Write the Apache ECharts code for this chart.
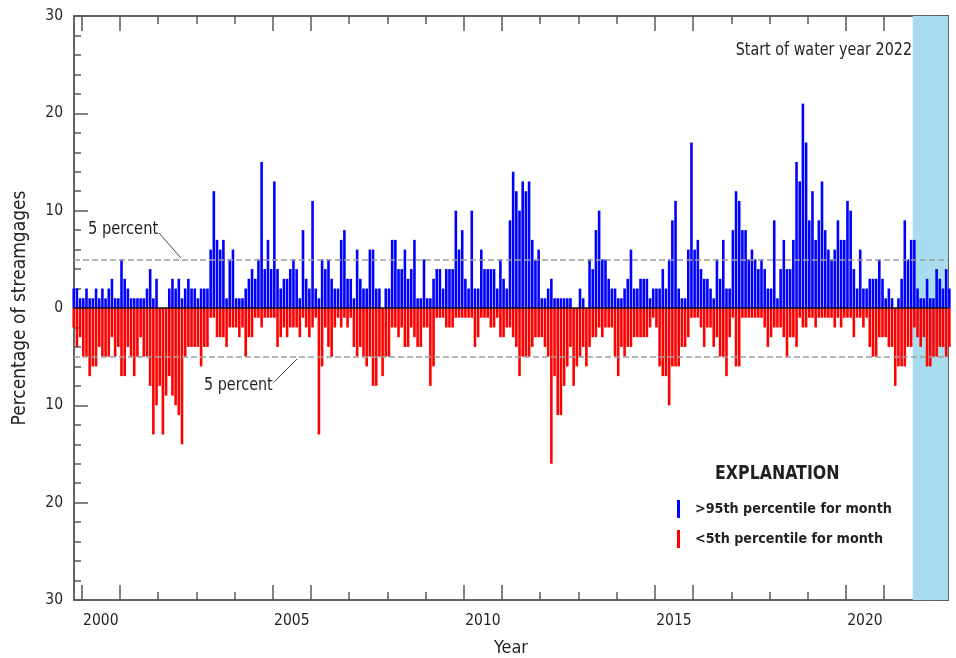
<!DOCTYPE html>
<html><head><meta charset="utf-8">
<script src="https://cdn.jsdelivr.net/npm/echarts@6/dist/echarts.min.js"></script>
<style>html,body{margin:0;padding:0;background:#fff}#c{width:956px;height:658px}</style>
</head><body><div id="c"></div>
<script>
// First bar = October 1999, one bar per month
const startYear = 1999, startMonth = 10;
const blueVals = [
 2,2,1,1,2,1,1,2,1,2,1,2,3,1,1,5,3,2,1,1,1,1,1,2,4,1,3,0,0,0,2,3,2,3,1,2,3,2,2,1,2,2,2,6,12,7,6,
 7,1,5,6,1,1,1,2,3,4,3,5,15,4,7,4,13,4,2,3,3,4,5,4,1,8,3,2,11,2,1,5,4,5,3,2,2,7,8,3,3,1,6,3,2,2,
 6,6,2,2,0,2,2,7,7,4,4,6,3,4,7,1,1,5,1,1,3,4,4,2,4,4,4,10,6,8,3,2,10,2,2,6,4,4,4,4,2,5,3,2,9,14,
 12,10,13,12,13,7,5,6,1,1,2,3,1,1,1,1,1,1,0,0,2,1,0,5,4,8,10,5,5,3,2,2,1,1,2,3,6,2,2,3,3,3,1,2,2,2,
 4,2,5,9,11,2,1,1,6,17,6,7,4,3,3,2,1,5,3,7,2,2,8,12,11,8,8,5,6,5,4,5,4,2,2,9,1,4,7,4,4,7,15,13,21,17,
 9,12,7,9,13,8,6,5,6,9,7,7,11,10,4,2,6,2,2,3,3,3,5,3,1,2,1,0,1,3,9,5,7,7,2,1,1,3,1,1,4,3,2,4,2
];
const redVals = [
 2,4,3,5,5,7,6,6,4,5,5,5,3,5,4,7,7,4,5,7,5,3,5,5,8,13,10,8,13,9,7,9,10,11,14,5,4,4,4,4,6,4,4,1,1,3,3,
 3,4,2,2,2,3,2,5,3,3,1,1,2,1,1,1,1,4,3,2,3,2,2,2,3,1,2,3,2,1,13,6,2,4,5,2,1,2,1,2,1,4,5,4,5,6,
 5,8,8,5,7,5,5,2,2,3,2,4,4,2,3,4,4,2,2,8,6,1,1,1,2,2,2,1,1,1,1,1,1,4,3,1,1,1,2,2,1,3,3,2,2,3,
 4,7,5,5,5,4,3,3,3,4,5,16,7,11,11,8,6,4,8,6,5,4,6,4,3,3,2,3,2,2,2,5,7,4,5,4,4,3,3,3,3,3,2,1,2,6,
 7,7,10,6,6,6,4,4,3,1,1,1,2,4,2,2,4,3,5,5,7,3,1,6,6,1,1,1,1,1,1,1,2,4,3,2,2,2,3,5,3,3,4,1,2,2,
 1,1,2,1,1,1,1,1,2,1,2,1,1,1,3,1,1,2,1,4,5,5,3,3,3,4,4,8,6,6,6,4,4,2,3,4,3,6,6,5,5,4,4,5,4
];
const yearLabels = ['2000','2005','2010','2015','2020'];
const longTickYears = [2000,2001,2005,2006,2010,2011,2015,2016,2020,2021];
const shortTickYears = [2002,2003,2004,2007,2008,2009,2012,2013,2014,2017,2018,2019,2022];
const seriesNames = ['>95th percentile for month','<5th percentile for month'];

// x unit: months since 1 January 2000
const monthOf = (y, m) => (y - 2000) * 12 + (m - 1);
const xOf = i => monthOf(startYear, startMonth) + i + 0.5;
const labelPos = yearLabels.map(y => monthOf(+y, 7));
const longTicks = longTickYears.map(y => monthOf(y, 1));
const shortTicks = shortTickYears.map(y => monthOf(y, 1));
const waterYearStart = monthOf(2021, 10);
const XMIN = -2.42, XMAX = 272.07;

const FONT = "'Liberation Sans Narrow','DejaVu Sans Condensed','Arial Narrow',sans-serif";
const TXT = '#231f20', AX = '#58595b';

const xBase = (pos, ticks, len) => ({
  type: 'value', position: pos, min: XMIN, max: XMAX,
  axisLine: {show: true, onZero: false, lineStyle: {color: AX, width: 1.5}},
  splitLine: {show: false},
  axisTick: {show: true, inside: true, length: len, customValues: ticks, lineStyle: {color: AX, width: 1.5}},
  axisLabel: {show: false}
});
const yBase = (pos, interval, len) => ({
  type: 'value', position: pos, min: -30, max: 30, interval: interval,
  axisLine: {show: true, onZero: false, lineStyle: {color: AX, width: 1.5}},
  splitLine: {show: false},
  axisTick: {show: true, inside: true, length: len, lineStyle: {color: AX, width: 1.5}},
  axisLabel: {show: false}
});

const xMain = xBase('bottom', longTicks, 15);
xMain.axisLabel = {show: true, customValues: labelPos, formatter: v => yearLabels[labelPos.indexOf(v)],
  fontSize: 15.5, fontFamily: FONT, color: TXT, margin: 13};
xMain.name = 'Year'; xMain.nameLocation = 'middle'; xMain.nameGap = 39;
xMain.nameTextStyle = {fontSize: 18, fontFamily: FONT, color: TXT};

const yMain = yBase('left', 2, 7);
yMain.axisLabel = {show: true, formatter: v => (v % 10 === 0 ? String(Math.abs(v)) : ''),
  fontSize: 15.5, fontFamily: FONT, color: TXT, margin: 11};
yMain.name = 'Percentage of streamgages'; yMain.nameLocation = 'middle'; yMain.nameGap = 44;
yMain.nameTextStyle = {fontSize: 19, fontFamily: FONT, color: TXT};

const chart = echarts.init(document.getElementById('c'), null, {renderer: 'canvas'});
chart.setOption({
  animation: false,
  backgroundColor: '#fff',
  grid: {left: 74, right: 8, top: 16, bottom: 58, outerBoundsMode: 'none', containLabel: false},
  xAxis: [xMain, xBase('bottom', shortTicks, 8), xBase('top', longTicks, 15), xBase('top', shortTicks, 8)],
  yAxis: [yMain, yBase('left', 10, 14), yBase('right', 2, 7), yBase('right', 10, 14)],
  legend: {
    orient: 'vertical', left: 677, top: 500, padding: 0, itemWidth: 3, itemHeight: 18, itemGap: 12, icon: 'rect',
    textStyle: {fontSize: 14.2, fontWeight: 'bold', fontFamily: FONT, color: TXT, padding: [0, 0, 0, 10]},
    data: seriesNames, selectedMode: false
  },
  series: [
    {type: 'bar', name: 'shade', data: [], z: 1, silent: true,
     markArea: {silent: true, itemStyle: {color: '#a8dcef'}, data: [[{xAxis: waterYearStart}, {xAxis: XMAX}]]}},
    {type: 'bar', name: seriesNames[0], z: 3, barWidth: 2.6, barGap: '-100%',
     itemStyle: {color: '#0000ff'}, data: blueVals.map((v, i) => [xOf(i), v])},
    {type: 'bar', name: seriesNames[1], z: 3, barWidth: 2.6, barGap: '-100%',
     itemStyle: {color: '#ff0000'}, data: redVals.map((v, i) => [xOf(i), -v]),
     markLine: {silent: true, symbol: 'none', label: {show: false},
       data: [
         {yAxis: 5, lineStyle: {color: '#9d9d9d', type: [6, 3], width: 1.5}},
         {yAxis: -5, lineStyle: {color: '#9d9d9d', type: [6, 3], width: 1.5}},
         {yAxis: 0, lineStyle: {color: '#111', type: 'solid', width: 1.5}}
       ]}}
  ],
  graphic: [
    {type: 'text', x: 88, y: 221, z: 10, scaleX: 0.96, style: {text: '5 percent', font: "17px " + FONT, fill: TXT}},
    {type: 'line', z: 10, shape: {x1: 159, y1: 233, x2: 181, y2: 258}, style: {stroke: '#444', lineWidth: 1}},
    {type: 'text', x: 204, y: 377, z: 10, scaleX: 0.94, style: {text: '5 percent', font: "17px " + FONT, fill: TXT}},
    {type: 'line', z: 10, shape: {x1: 274, y1: 382, x2: 297, y2: 359}, style: {stroke: '#444', lineWidth: 1}},
    {type: 'text', x: 912, y: 41, z: 10, scaleX: 0.885, style: {text: 'Start of water year 2022', font: "18px " + FONT, fill: TXT, align: 'right'}},
    {type: 'text', x: 715, y: 464, z: 10, scaleX: 0.88, style: {text: 'EXPLANATION', font: "bold 20px " + FONT, fill: TXT}}
  ]
});
</script></body></html>
